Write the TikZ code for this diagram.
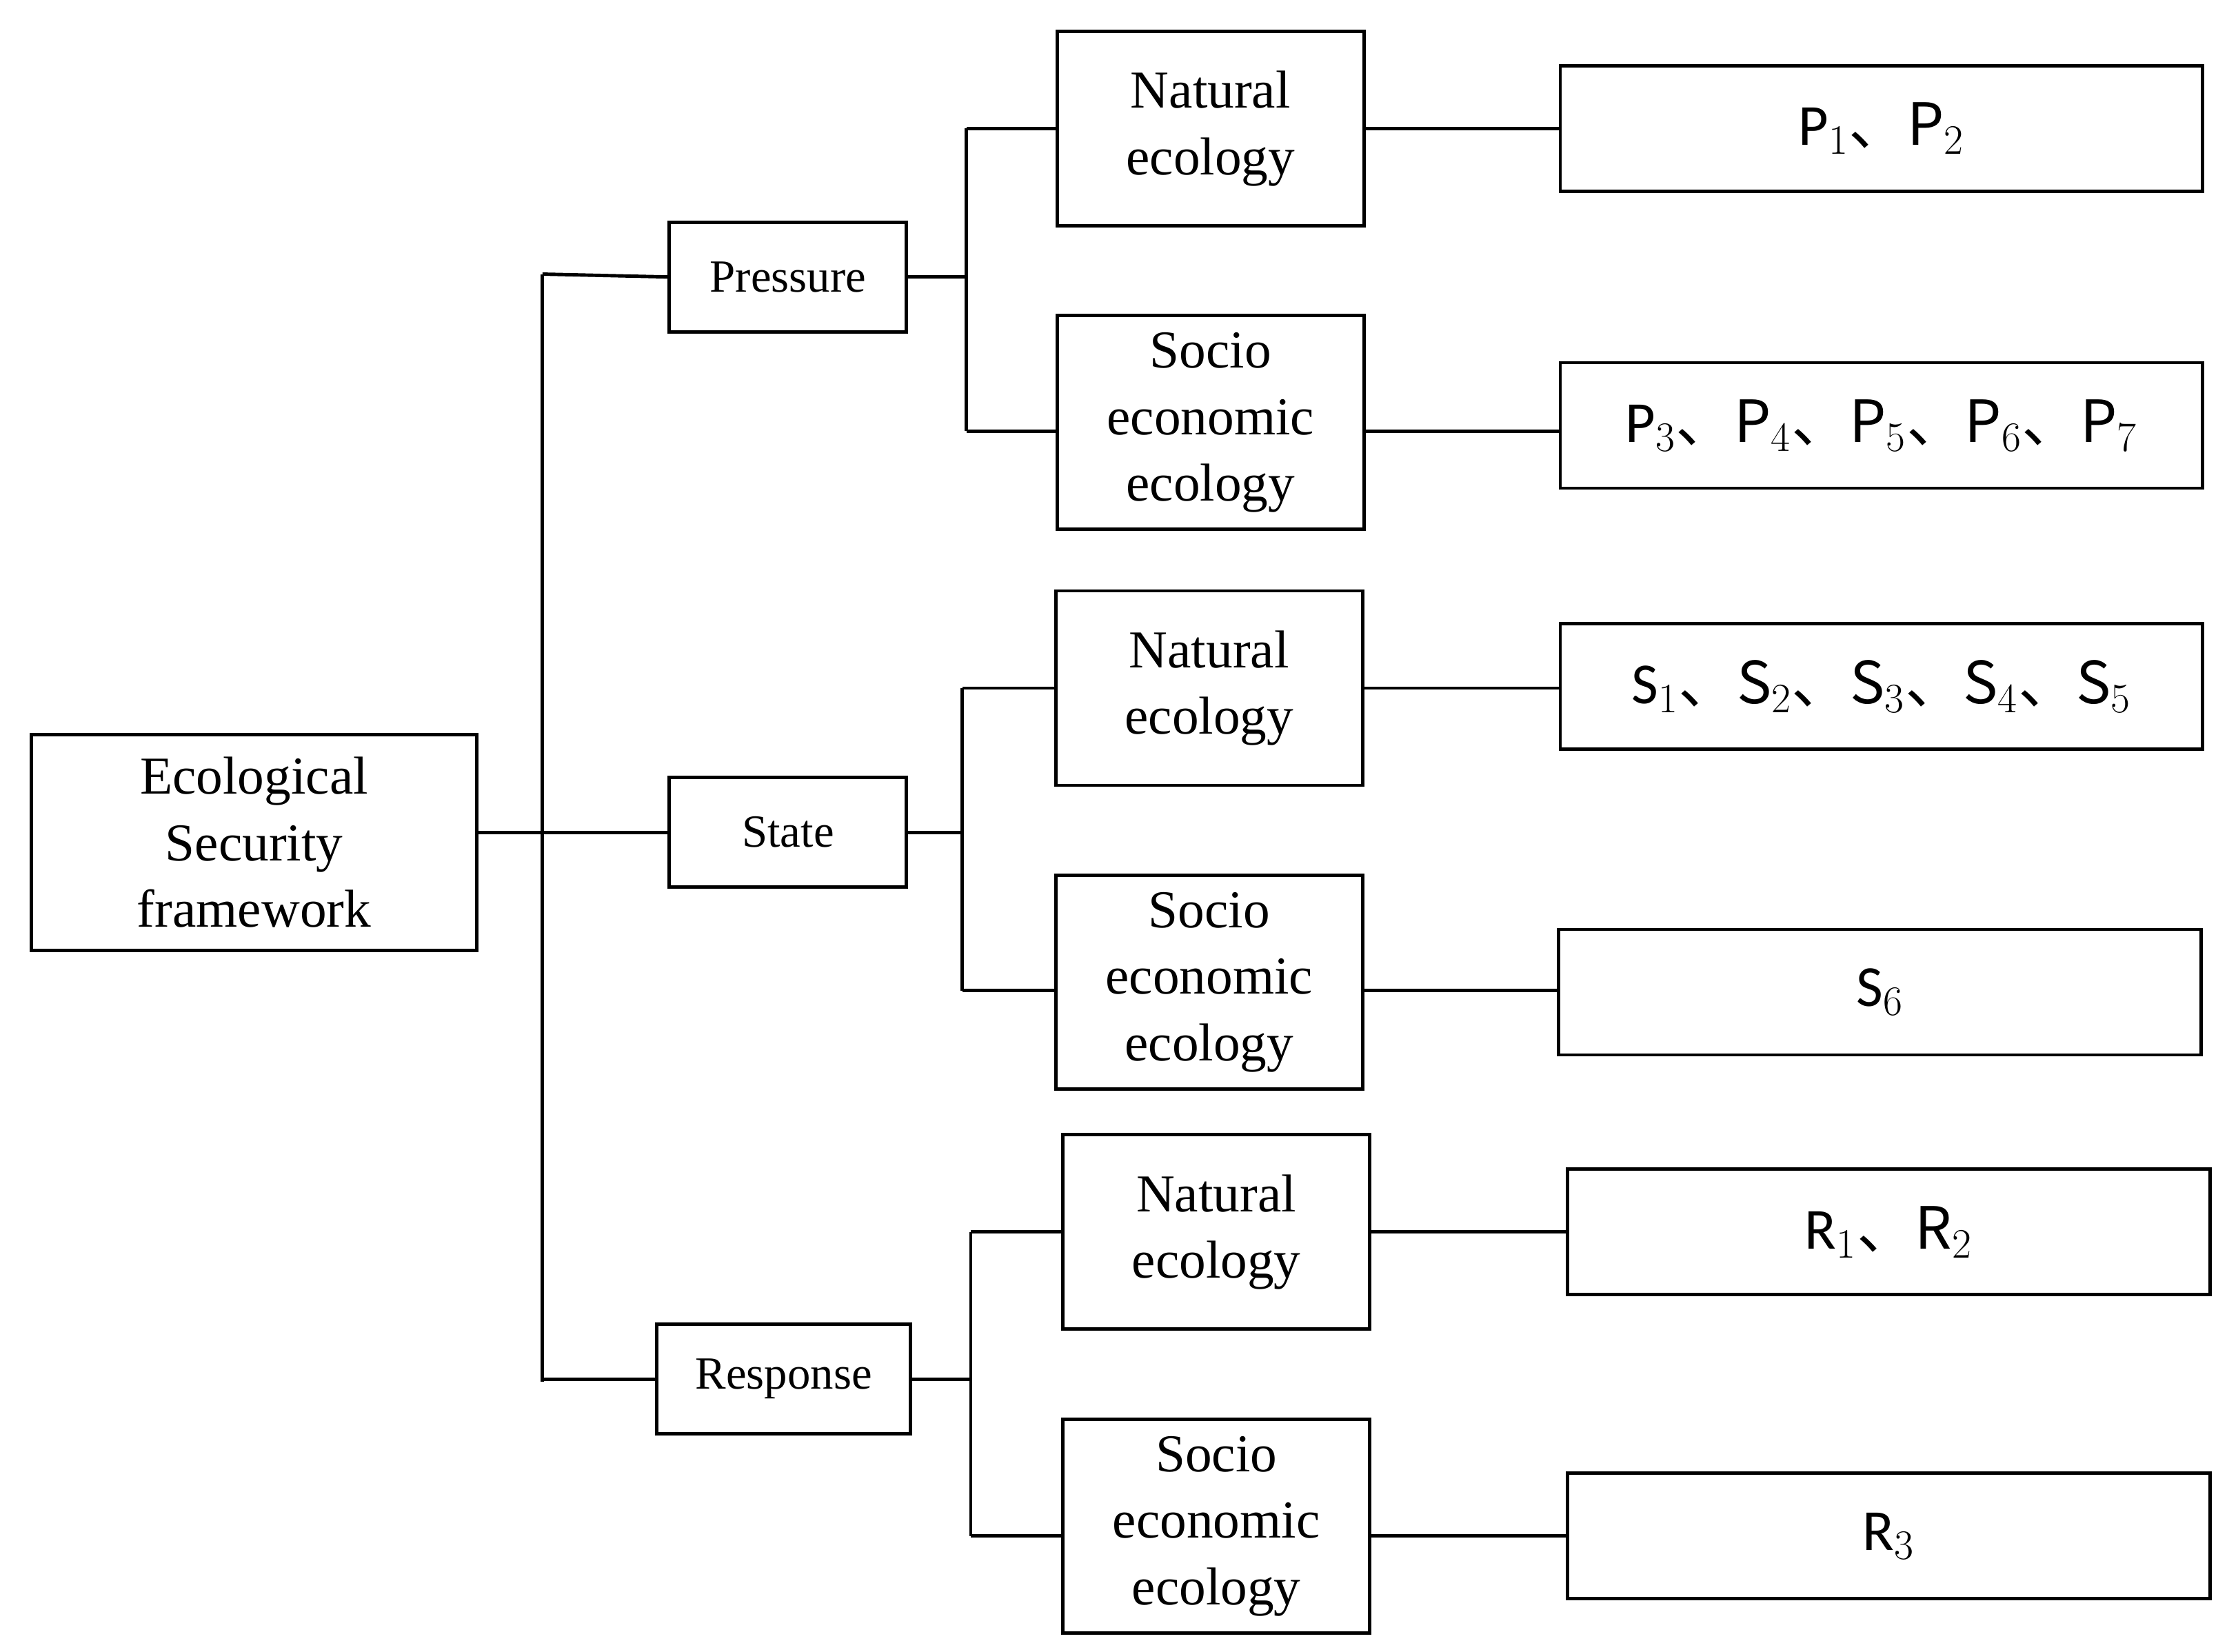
\documentclass[tikz,border=0pt]{standalone}
\usepackage{fontspec}
\setmainfont{Liberation Serif}
\newfontfamily\sans{Carlito}
\newfontfamily\cjk{Noto Sans CJK SC}
\newcommand{\dn}{\cjk{、}}
\begin{document}
\begin{tikzpicture}[x=0.0207cm,y=-0.0207cm,line width=1.4pt,
  box/.style={draw,line width=1.4pt,align=center,inner sep=0pt,font=\fontsize{22}{27.5}\selectfont},
  mid/.style={box,minimum width=4.45cm},
  nat/.style={mid,minimum height=2.82cm},
  soc/.style={mid,minimum height=3.1cm},
  cat/.style={box,minimum height=1.59cm,font=\fontsize{19}{23}\selectfont},
  leaf/.style={box,minimum width=9.32cm,minimum height=1.82cm,font=\sans\fontsize{24}{28}\selectfont}]
\useasboundingbox (0,0) rectangle (1560,1157);
\node[box,minimum width=6.46cm,minimum height=3.13cm] (root) at (178,590) {Ecological\\Security\\framework};
\node[cat,minimum width=3.44cm] (pres) at (552,194) {Pressure};
\node[cat,minimum width=3.44cm] (state) at (552,583) {State};
\node[cat,minimum width=3.68cm] (resp) at (549,966) {Response};
% pressure
\node[nat] (pn) at (848,90) {Natural\\ecology};
\node[soc] (ps) at (848,296) {Socio\\economic\\ecology};
\node[leaf] (pl1) at (1318,90) {P$_1$\dn P$_2$};
\node[leaf] (pl2) at (1318,298) {P$_3$\dn P$_4$\dn P$_5$\dn P$_6$\dn P$_7$};
% state
\node[nat] (sn) at (847,482) {Natural\\ecology};
\node[soc] (ss) at (847,688) {Socio\\economic\\ecology};
\node[leaf] (sl1) at (1318,481) {S$_1$\dn S$_2$\dn S$_3$\dn S$_4$\dn S$_5$};
\node[leaf] (sl2) at (1317,695) {S$_6$};
% response
\node[nat] (rn) at (852,863) {Natural\\ecology};
\node[soc] (rs) at (852,1069) {Socio\\economic\\ecology};
\node[leaf] (rl1) at (1323,863) {R$_1$\dn R$_2$};
\node[leaf] (rl2) at (1323,1076) {R$_3$};
% trunk
\coordinate (t0) at (380,192);
\coordinate (t1) at (380,968);
\coordinate (tm) at (380,583);
\draw (t0) -- (t1);
\draw (root.east |- tm) -- (state.west);
\draw (t0) -- (pres.west);
\draw (380,966) -- (resp.west);
% pressure bus
\coordinate (pb0) at (677,90); \coordinate (pb1) at (677,302);
\draw (pb0) -- (pb1);
\draw (pres.east) -- (pres.east -| pb0);
\draw (pb0) -- (pn.west |- pb0);
\draw (pb1) -- (ps.west |- pb1);
\draw (pn.east) -- (pl1.west);
\draw (ps.east |- pb1) -- (pl2.west |- pb1);
% state bus
\coordinate (sb0) at (674,482); \coordinate (sb1) at (674,694);
\draw (sb0) -- (sb1);
\draw (state.east) -- (state.east -| sb0);
\draw (sb0) -- (sn.west |- sb0);
\draw (sb1) -- (ss.west |- sb1);
\draw (sn.east) -- (sl1.west |- sn.east);
\draw (ss.east |- sb1) -- (sl2.west |- sb1);
% response bus
\coordinate (rb0) at (680,863); \coordinate (rb1) at (680,1076);
\draw (rb0) -- (rb1);
\draw (resp.east) -- (resp.east -| rb0);
\draw (rb0) -- (rn.west |- rb0);
\draw (rb1) -- (rs.west |- rb1);
\draw (rn.east) -- (rl1.west);
\draw (rs.east |- rb1) -- (rl2.west |- rb1);
\end{tikzpicture}
\end{document}
